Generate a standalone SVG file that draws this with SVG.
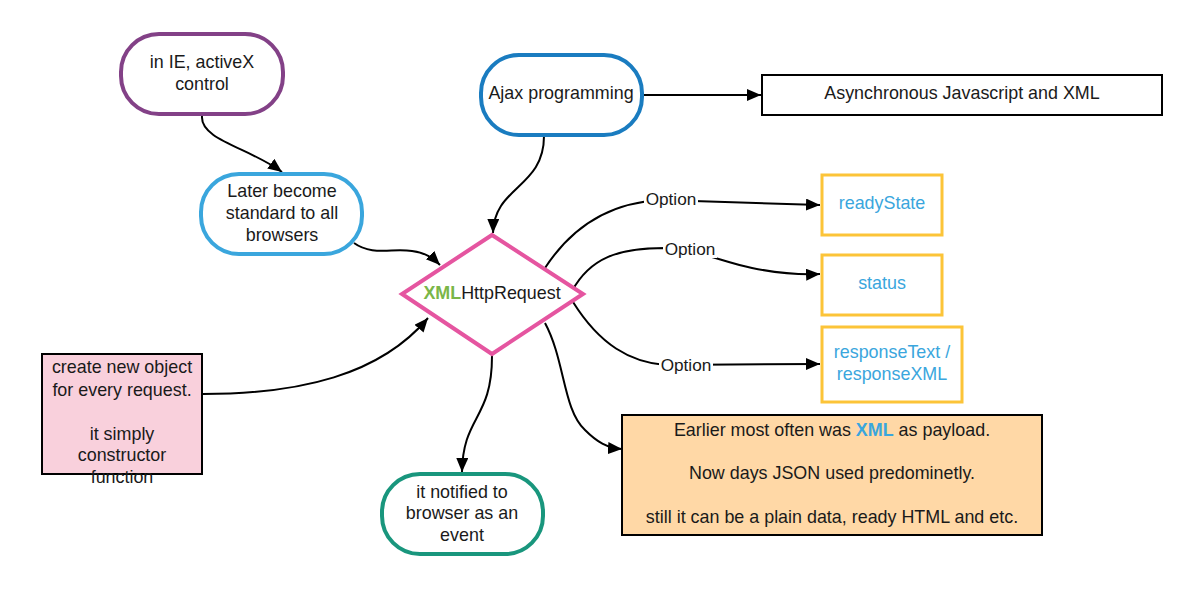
<svg xmlns="http://www.w3.org/2000/svg" width="1178" height="607" viewBox="0 0 1178 607">
<defs>
<marker id="arr" markerUnits="userSpaceOnUse" markerWidth="16" markerHeight="14" refX="14" refY="6" orient="auto">
<path d="M0,0 L14,6 L0,12 Z" fill="#000"/>
</marker>
<style>
text{font-family:"Liberation Sans",Arial,sans-serif;font-size:17.9px;fill:#1a1a1a;text-anchor:middle}
.lbl{font-size:17.2px}
.blue{fill:#3aa6dd}
.green{fill:#7ab648}
.conn{fill:none;stroke:#000;stroke-width:2;marker-end:url(#arr)}
.pill{fill:#fff;stroke-width:4}
.opt{fill:#fff;stroke:#fcc438;stroke-width:3}
.box{stroke:#000;stroke-width:2}
</style>
</defs>
<rect width="1178" height="607" fill="#fff"/>
<g id="connectors">
<path class="conn" d="M202,116 C200,140 250,148 282,172"/>
<path class="conn" d="M354,243 C372,256 392,248 412,251 C426,253 433,258 440,265"/>
<path class="conn" d="M544,136 C544,188 494,186 493,233"/>
<path class="conn" d="M643,95 L761,95"/>
<path class="conn" d="M545,268 C575,222 615,202 662,200 L820,205"/>
<path class="conn" d="M572,291 C590,258 618,248 665,248 C700,250 722,262 752,268 C782,274 800,275 820,274"/>
<path class="conn" d="M573,302 C600,345 630,362 665,365 L820,364"/>
<path class="conn" d="M545,323 C565,360 563,410 585,430 C597,442 607,448 622,449"/>
<path class="conn" d="M492,356 C492,420 463,415 462,472"/>
<path class="conn" d="M203,394 C300,394 380,375 428,318"/>
<rect x="644" y="188" width="54" height="20" fill="#fff"/>
<text class="lbl" x="671" y="205">Option</text>
<rect x="663" y="238" width="54" height="20" fill="#fff"/>
<text class="lbl" x="690" y="255">Option</text>
<rect x="659" y="354" width="54" height="20" fill="#fff"/>
<text class="lbl" x="686" y="371">Option</text>
</g>
<g id="activex">
<rect class="pill" x="121" y="34" width="162" height="80" rx="38" stroke="#834187"/>
<text x="202" y="68">in IE, activeX</text>
<text x="202" y="90">control</text>
</g>
<g id="ajax">
<rect class="pill" x="481" y="55" width="161" height="80" rx="38" stroke="#1a7cc0"/>
<text x="561" y="99">Ajax programming</text>
</g>
<g id="async">
<rect x="762" y="75" width="400" height="40" fill="#fff" class="box"/>
<text x="962" y="99">Asynchronous Javascript and XML</text>
</g>
<g id="later">
<rect class="pill" x="201" y="174" width="161" height="80" rx="38" stroke="#3aa6dd"/>
<text x="282" y="197">Later become</text>
<text x="282" y="219">standard to all</text>
<text x="282" y="241">browsers</text>
</g>
<g id="xhr">
<polygon points="492,235 583,294 492,354 402,294" fill="#fff" stroke="#e555a0" stroke-width="4" stroke-linejoin="miter"/>
<text x="492" y="299"><tspan class="green" font-weight="bold">XML</tspan>HttpRequest</text>
</g>
<g id="readyState">
<rect class="opt" x="822" y="175" width="120" height="60"/>
<text class="blue" x="882" y="209">readyState</text>
</g>
<g id="status">
<rect class="opt" x="822" y="255" width="120" height="60"/>
<text class="blue" x="882" y="289">status</text>
</g>
<g id="response">
<rect class="opt" x="822" y="327" width="140" height="75"/>
<text class="blue" x="892" y="358">responseText /</text>
<text class="blue" x="892" y="380">responseXML</text>
</g>
<g id="create">
<rect x="42" y="354" width="160" height="120" fill="#f9d0dc" class="box"/>
<text x="122" y="373">create new object</text>
<text x="122" y="396">for every request.</text>
<text x="122" y="440">it simply</text>
<text x="122" y="461">constructor</text>
<text x="122" y="483">function</text>
</g>
<g id="notified">
<rect class="pill" x="382" y="474" width="161" height="80" rx="38" stroke="#19967d"/>
<text x="462" y="498">it notified to</text>
<text x="462" y="519">browser as an</text>
<text x="462" y="541">event</text>
</g>
<g id="payload">
<rect x="622" y="415" width="420" height="120" fill="#ffd8a6" class="box"/>
<text x="832" y="436">Earlier most often was <tspan class="blue" font-weight="bold">XML</tspan> as payload.</text>
<text x="832" y="479">Now days JSON used predominetly.</text>
<text x="832" y="523">still it can be a plain data, ready HTML and etc.</text>
</g>
</svg>
